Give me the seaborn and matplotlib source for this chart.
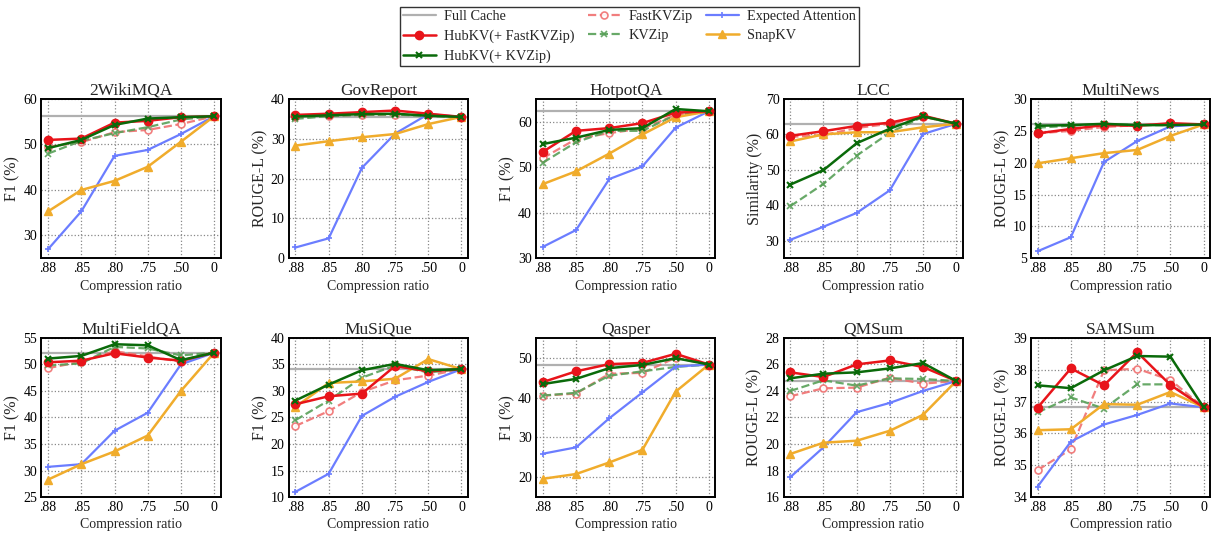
import numpy as np
import pandas as pd
import matplotlib
matplotlib.use("Agg")
import matplotlib.pyplot as plt
import seaborn as sns

# ---------------- data ----------------
ratios = [".88", ".85", ".80", ".75", ".50", "0"]

datasets = ["2WikiMQA", "GovReport", "HotpotQA", "LCC", "MultiNews",
            "MultiFieldQA", "MuSiQue", "Qasper", "QMSum", "SAMSum"]

ylabels = ["F1 (%)", "ROUGE-L (%)", "F1 (%)", "Similarity (%)", "ROUGE-L (%)",
           "F1 (%)", "F1 (%)", "F1 (%)", "ROUGE-L (%)", "ROUGE-L (%)"]

ylims = [(25, 60), (0, 40), (30, 65), (25, 70), (5, 30),
         (25, 55), (10, 40), (15, 55), (16, 28), (34, 39)]

yticks = [[30, 40, 50, 60], [0, 10, 20, 30, 40], [30, 40, 50, 60],
          [30, 40, 50, 60, 70], [5, 10, 15, 20, 25, 30],
          [25, 30, 35, 40, 45, 50, 55], [10, 15, 20, 25, 30, 35, 40],
          [20, 30, 40, 50], [16, 18, 20, 22, 24, 26, 28],
          [34, 35, 36, 37, 38, 39]]

full_cache = [56.2, 35.5, 62.3, 63.0, 26.0, 52.2, 34.1, 48.3, 24.75, 36.82]

hub_fastkvzip = [
    [51.0, 51.3, 54.8, 55.2, 56.0, 56.2],
    [36.0, 36.3, 36.7, 37.1, 36.3, 35.5],
    [53.4, 58.0, 58.6, 59.7, 62.0, 62.3],
    [59.6, 60.9, 62.4, 63.3, 65.3, 63.0],
    [24.6, 25.3, 25.9, 25.8, 26.2, 26.0],
    [50.4, 50.7, 52.1, 51.3, 50.7, 52.2],
    [27.5, 29.0, 29.5, 34.7, 33.7, 34.1],
    [43.9, 46.6, 48.4, 48.7, 51.0, 48.3],
    [25.4, 25.05, 26.0, 26.3, 25.8, 24.75],
    [36.81, 38.04, 37.51, 38.55, 37.52, 36.82],
]

hub_kvzip = [
    [49.2, 51.0, 54.3, 55.7, 56.0, 56.2],
    [35.6, 35.9, 36.2, 36.3, 35.8, 35.5],
    [55.1, 56.5, 58.2, 58.6, 62.8, 62.3],
    [45.8, 49.9, 57.5, 61.6, 65.1, 63.0],
    [25.8, 25.9, 26.1, 25.9, 25.9, 26.0],
    [51.1, 51.6, 53.8, 53.6, 50.8, 52.2],
    [28.2, 31.2, 33.9, 35.1, 33.9, 34.1],
    [43.4, 44.7, 47.4, 48.2, 49.9, 48.3],
    [24.95, 25.3, 25.4, 25.7, 26.1, 24.75],
    [37.51, 37.42, 37.98, 38.43, 38.41, 36.82],
]

fastkvzip = [
    [49.5, 50.5, 52.7, 53.2, 54.5, 56.2],
    [35.5, 35.8, 36.0, 36.0, 36.0, 35.5],
    [52.0, 56.2, 57.5, 58.5, 61.5, 62.3],
    [59.3, 59.8, 61.8, 63.0, 65.0, 63.0],
    [24.6, 25.0, 25.6, 25.9, 26.1, 26.0],
    [49.3, 50.5, 52.5, 51.5, 50.5, 52.2],
    [23.4, 26.2, 29.8, 32.0, 32.9, 34.1],
    [40.5, 41.0, 46.0, 46.2, 50.0, 48.3],
    [23.6, 24.2, 24.25, 25.0, 24.55, 24.75],
    [34.85, 35.5, 37.98, 38.03, 37.68, 36.82],
]

kvzip = [
    [48.0, 50.8, 52.5, 53.8, 55.5, 56.2],
    [35.0, 35.7, 36.0, 36.1, 35.7, 35.5],
    [51.0, 55.5, 58.0, 58.0, 61.5, 62.3],
    [39.7, 46.0, 54.0, 60.5, 65.0, 63.0],
    [25.5, 25.8, 26.1, 25.9, 25.9, 26.0],
    [49.8, 50.2, 53.3, 53.0, 51.7, 52.2],
    [24.5, 28.2, 32.5, 34.8, 33.5, 34.1],
    [40.5, 41.2, 45.5, 46.6, 47.7, 48.3],
    [24.0, 24.8, 24.4, 24.95, 24.9, 24.75],
    [36.66, 37.13, 36.78, 37.54, 37.54, 36.82],
]

expected_attention = [
    [27.0, 35.3, 47.5, 48.8, 52.3, 56.2],
    [2.7, 5.0, 22.7, 31.3, 36.2, 35.5],
    [32.5, 36.2, 47.4, 50.2, 58.7, 62.3],
    [30.2, 33.9, 37.8, 44.2, 60.1, 63.0],
    [6.1, 8.3, 20.1, 23.4, 25.7, 26.0],
    [30.7, 31.2, 37.5, 40.9, 50.0, 52.2],
    [11.0, 14.4, 25.3, 28.9, 31.7, 34.1],
    [25.9, 27.5, 34.8, 41.3, 47.8, 48.3],
    [17.5, 19.75, 22.4, 23.1, 24.0, 24.75],
    [34.33, 35.74, 36.28, 36.58, 36.94, 36.82],
]

snapkv = [
    [35.3, 40.0, 42.0, 45.1, 50.6, 56.2],
    [28.3, 29.4, 30.4, 31.2, 33.7, 35.5],
    [46.3, 49.1, 53.0, 57.2, 61.0, 62.3],
    [58.0, 60.0, 60.6, 60.6, 62.0, 63.0],
    [19.9, 20.7, 21.5, 22.0, 24.2, 26.0],
    [28.3, 31.2, 33.6, 36.6, 45.0, 52.2],
    [27.0, 31.5, 31.8, 32.3, 36.0, 34.1],
    [19.6, 20.8, 23.7, 26.9, 41.5, 48.3],
    [19.25, 20.1, 20.25, 21.0, 22.2, 24.75],
    [36.1, 36.13, 36.92, 36.9, 37.3, 36.82],
]

# ---------------- styles ----------------
methods = [
    ("FastKVZip", fastkvzip, dict(color="#f07070", ls="--", marker="o", mfc="white", mec="#f07070", ms=5, mew=1.2, lw=1.6, alpha=0.9)),
    ("KVZip", kvzip, dict(color="#58a058", ls="--", marker="x", ms=5, mew=1.2, lw=1.6, alpha=0.9)),
    ("Expected Attention", expected_attention, dict(color="#6b7dff", ls="-", marker="+", ms=5, mew=1.2, lw=1.6)),
    ("SnapKV", snapkv, dict(color="#f0ac2c", ls="-", marker="^", ms=6, lw=1.8)),
    ("HubKV(+ FastKVZip)", hub_fastkvzip, dict(color="#e8141a", ls="-", marker="o", ms=6, lw=1.8)),
    ("HubKV(+ KVZip)", hub_kvzip, dict(color="#0a6a0a", ls="-", marker="x", ms=5, mew=1.5, lw=1.8)),
]

sns.set_theme(style="white")
plt.rcParams["font.family"] = ["Liberation Serif", "DejaVu Serif"]

fig, axes = plt.subplots(2, 5, figsize=(12.2, 5.38), dpi=100)
fig.subplots_adjust(left=0.034, right=0.992, top=0.816, bottom=0.076,
                    wspace=0.38, hspace=0.5)

xpos = np.arange(len(ratios))
handles = {}

for i, ax in enumerate(axes.flat):
    h = ax.axhline(full_cache[i], color="#b0b0b0", lw=1.6, zorder=1)
    handles["Full Cache"] = h
    for name, table, st in methods:
        df = pd.DataFrame({"x": xpos, "y": table[i]})
        sns.lineplot(data=df, x="x", y="y", ax=ax, color=st["color"],
                     linestyle=st["ls"], marker=st["marker"],
                     markersize=st["ms"], linewidth=st["lw"],
                     markerfacecolor=st.get("mfc", st["color"]),
                     markeredgecolor=st.get("mec", st["color"]),
                     markeredgewidth=st.get("mew", 1.0),
                     alpha=st.get("alpha", 1.0), zorder=3)
        handles[name] = ax.lines[-1]

    ax.set_title(datasets[i], fontsize=12.5, pad=3)
    ax.set_ylim(*ylims[i])
    ax.set_yticks(yticks[i])
    ax.set_xlim(-0.2, 5.2)
    ax.set_xticks(xpos)
    ax.set_xticklabels(ratios)
    ax.set_ylabel(ylabels[i], fontsize=11.5, labelpad=2)
    ax.set_xlabel("Compression ratio", fontsize=10, labelpad=3)
    ax.grid(True, ls=":", color="#888888", lw=0.9)
    ax.tick_params(direction="in", length=3, labelsize=10, pad=3,
                   top=False, right=False, colors="black")
    for sp in ax.spines.values():
        sp.set_color("black")
        sp.set_linewidth(1.4)

order = ["Full Cache", "HubKV(+ FastKVZip)", "HubKV(+ KVZip)",
         "FastKVZip", "KVZip", "Expected Attention", "SnapKV"]
leg = fig.legend([handles[k] for k in order], order, loc="upper center",
                 bbox_to_anchor=(0.516, 1.0), ncol=3, fontsize=10.3,
                 frameon=True, fancybox=False, edgecolor="black",
                 handlelength=2.3, columnspacing=0.9, handletextpad=0.6,
                 borderpad=0.2, labelspacing=0.45)
leg.get_frame().set_linewidth(1.0)

fig.savefig("out.png", dpi=100)
